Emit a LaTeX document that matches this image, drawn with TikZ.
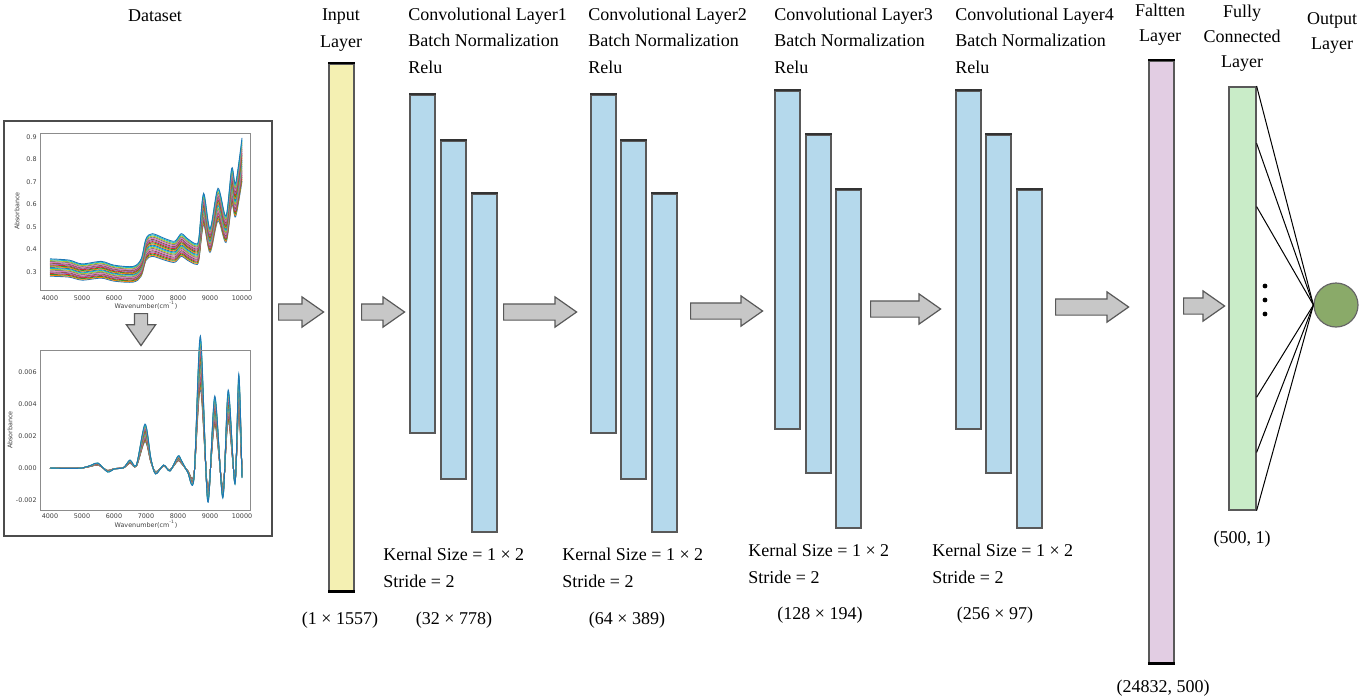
\documentclass[tikz,border=0pt]{standalone}
\usepackage{fontspec}
\setmainfont{Liberation Serif}
\setsansfont{DejaVu Sans}
\usetikzlibrary{positioning,shapes.arrows,calc}

\definecolor{convblue}{HTML}{B5D9EC}
\definecolor{inyellow}{HTML}{F4F0B2}
\definecolor{flatpink}{HTML}{E2CDE3}
\definecolor{fcgreen}{HTML}{C9ECC8}
\definecolor{outgreen}{HTML}{8AAA69}
\definecolor{mpl0}{HTML}{1F77B4}
\definecolor{mpl1}{HTML}{FF7F0E}
\definecolor{mpl2}{HTML}{2CA02C}
\definecolor{mpl3}{HTML}{D62728}
\definecolor{mpl4}{HTML}{9467BD}
\definecolor{mpl5}{HTML}{8C564B}
\definecolor{mpl6}{HTML}{E377C2}
\definecolor{mpl7}{HTML}{7F7F7F}
\definecolor{mpl8}{HTML}{BCBD22}
\definecolor{mpl9}{HTML}{17BECF}

\tikzset{
  lbl/.style={font=\fontsize{9}{13.2}\selectfont, inner sep=0pt},
  layer/.style={draw=black!65, line width=0.8pt, minimum width=12.5pt, inner sep=0pt, anchor=north west},
  conv/.style={layer, fill=convblue, minimum height=169pt},
  flow/.style={single arrow, draw=black!65, fill=black!22, line width=0.6pt, inner xsep=0pt, inner ysep=3.75pt,
    minimum width=14.5pt, single arrow head extend=3.5pt, single arrow tip angle=70, anchor=tail},
  ticklbl/.style={font=\fontsize{3.2}{4}\sffamily, text=black!75, inner sep=0pt},
}

\begin{document}
\begin{tikzpicture}[x=0.5pt, y=-0.5pt]
  \useasboundingbox (0,0) rectangle (1359,698);

  % dataset panel
  \node[draw=black!70, line width=1pt, minimum width=134pt, minimum height=207.5pt, inner sep=0pt, anchor=north west] (dataset) at (3,120) {};
  \node[lbl, anchor=base] (ttlData) at (155,21) {Dataset};

  % raw spectra
  \begin{scope}[shift={(50,339.5)}, x=16pt, y=112.5pt]
    \foreach \k in {-10,...,10} {
      \pgfmathtruncatemacro\ci{mod(\k+10,10)}
      \draw[mpl\ci, line width=0.45pt, yscale=1+0.012*\k] plot[smooth, tension=0.5] coordinates
        {(0,0.32) (0.6,0.315) (1.0,0.30) (1.6,0.31) (2.0,0.295) (2.6,0.29) (2.85,0.32) (3.0,0.40)
         (3.2,0.42) (3.6,0.40) (3.9,0.39) (4.1,0.42) (4.3,0.40) (4.55,0.38) (4.65,0.40) (4.8,0.58)
         (5.0,0.44) (5.25,0.60) (5.5,0.49) (5.68,0.68) (5.8,0.62) (6.0,0.80)};
    }
  \end{scope}
  \draw[black!45, line width=0.4pt] (40,133) rectangle (250,290);
  \foreach \a/\yy in {0.3/272,0.4/249.5,0.5/227,0.6/204.5,0.7/182,0.8/159.5,0.9/137}
    \node[ticklbl, anchor=east] at (37,\yy) {\a};
  \foreach \w [count=\i from 0] in {4000,5000,6000,7000,8000,9000,10000}
    \node[ticklbl] at (50+32*\i,298) {\w};
  \node[ticklbl] at (146,305) {Wavenumber(cm\textsuperscript{-1})};
  \node[ticklbl, rotate=90] at (17,211) {Absorbance};

  % processed spectra
  \node[flow, minimum height=16pt, minimum width=14pt, inner sep=3pt, single arrow head extend=4pt, shape border rotate=270] (down) at (141,313) {};
  \begin{scope}[shift={(50,468)}, x=16pt, y=8pt]
    \foreach \k in {-10,...,10} {
      \pgfmathtruncatemacro\ci{mod(\k+10,10)}
      \draw[mpl\ci, line width=0.45pt, yscale=1+0.025*\k] plot[smooth, tension=0.5] coordinates
        {(0,0) (0.5,-0.02) (1.0,0) (1.3,0.15) (1.5,0.25) (1.8,-0.2) (2.0,-0.05) (2.3,0.02) (2.5,0.4)
         (2.7,0.15) (2.97,2.2) (3.15,0.5) (3.3,-0.3) (3.55,0.15) (3.75,-0.15) (4.0,0.6) (4.1,0.4)
         (4.3,-0.2) (4.5,-0.5) (4.7,6.6) (4.93,-1.7) (5.15,3.6) (5.4,-1.5) (5.57,3.9) (5.78,-0.8)
         (5.9,4.7) (6.0,-0.5)};
    }
  \end{scope}
  \draw[black!45, line width=0.4pt] (40,350) rectangle (250,510);
  \foreach \a/\yy in {0.006/372,0.004/404,0.002/436,0.000/468,-0.002/500}
    \node[ticklbl, anchor=east] at (37,\yy) {\a};
  \foreach \w [count=\i from 0] in {4000,5000,6000,7000,8000,9000,10000}
    \node[ticklbl] at (50+32*\i,516) {\w};
  \node[ticklbl] at (146,524) {Wavenumber(cm\textsuperscript{-1})};
  \node[ticklbl, rotate=90] at (10,430) {Absorbance};

  % input layer
  \node[layer, fill=inyellow, minimum height=263.5pt] (input) at (328,63) {};
  \node[lbl, anchor=base, align=center] (ttlIn) at (341,47) {Input\\Layer};
  \node[lbl, anchor=base] (dimIn) at (340,624) {(1 × 1557)};

  % convolution blocks
  \node[conv] (c1a) at (409,94) {};
  \node[conv] (c1b) at (440,140) {};
  \node[conv] (c1c) at (471,193) {};
  \node[conv] (c2a) at (590,94) {};
  \node[conv] (c2b) at (620,140) {};
  \node[conv] (c2c) at (651,193) {};
  \node[conv] (c3a) at (774,90) {};
  \node[conv] (c3b) at (805,134) {};
  \node[conv] (c3c) at (835,189) {};
  \node[conv] (c4a) at (955,90) {};
  \node[conv] (c4b) at (985,134) {};
  \node[conv] (c4c) at (1016,189) {};
  \foreach \n in {c1a,c1b,c1c,c2a,c2b,c2c,c3a,c3b,c3c,c4a,c4b,c4c}
    \draw[black!80, line width=1.4pt] (\n.north west) -- (\n.north east);

  \node[lbl, anchor=base west, align=left] (ttlC1) at (408,73) {Convolutional Layer1\\Batch Normalization\\Relu};
  \node[lbl, anchor=base west, align=left] (ttlC2) at (588,73) {Convolutional Layer2\\Batch Normalization\\Relu};
  \node[lbl, anchor=base west, align=left] (ttlC3) at (774,73) {Convolutional Layer3\\Batch Normalization\\Relu};
  \node[lbl, anchor=base west, align=left] (ttlC4) at (955,73) {Convolutional Layer4\\Batch Normalization\\Relu};

  \node[lbl, anchor=base west, align=left] (kern1) at (383,587) {Kernal Size = 1 × 2\\Stride = 2};
  \node[lbl, anchor=base west, align=left] (kern2) at (562,587) {Kernal Size = 1 × 2\\Stride = 2};
  \node[lbl, anchor=base west, align=left] (kern3) at (748,583) {Kernal Size = 1 × 2\\Stride = 2};
  \node[lbl, anchor=base west, align=left] (kern4) at (932,583) {Kernal Size = 1 × 2\\Stride = 2};

  \node[lbl, anchor=base] (dimC1) at (454,624) {(32 × 778)};
  \node[lbl, anchor=base] (dimC2) at (627,624) {(64 × 389)};
  \node[lbl, anchor=base] (dimC3) at (820,619) {(128 × 194)};
  \node[lbl, anchor=base] (dimC4) at (995,619) {(256 × 97)};

  % flatten, fully connected, output
  \node[layer, fill=flatpink, minimum height=301pt] (flat) at (1148,60) {};
  \node[layer, fill=fcgreen, minimum width=13.5pt, minimum height=211.5pt] (fc) at (1228,86) {};
  \node[circle, draw=black!60, line width=0.6pt, fill=outgreen, minimum size=22pt, inner sep=0pt] (out) at (1336,305) {};
  \foreach \n in {input,flat} {
    \draw[black, line width=1.4pt] (\n.north west) -- (\n.north east);
    \draw[black, line width=1.4pt] (\n.south west) -- (\n.south east);
  }

  \node[lbl, anchor=base, align=center, font=\fontsize{9}{12.4}\selectfont] (ttlFlat) at (1160,41) {Faltten\\Layer};
  \node[lbl, anchor=base, align=center, font=\fontsize{9}{12.4}\selectfont] (ttlFc) at (1242,67) {Fully\\Connected\\Layer};
  \node[lbl, anchor=base, align=center, font=\fontsize{9}{12.4}\selectfont] (ttlOut) at (1332,49) {Output\\Layer};
  \node[lbl, anchor=base] (dimFlat) at (1163,692) {(24832, 500)};
  \node[lbl, anchor=base] (dimFc) at (1242,543) {(500, 1)};

  \foreach \t in {0,0.135,0.284,0.733,0.863,1}
    \draw[black, line width=0.5pt] ($(fc.north east)!\t!(fc.south east)$) -- (out.west);
  \foreach \yy in {286,300,314}
    \fill (1265,\yy) circle (1.2pt);

  % block arrows
  \node[flow, minimum height=22.5pt] (f1) at (278,312) {};
  \node[flow, minimum height=21.5pt] (f2) at (361,312) {};
  \node[flow, minimum height=36.5pt] (f3) at (503,312) {};
  \node[flow, minimum height=36pt] (f4) at (690,311) {};
  \node[flow, minimum height=35pt] (f5) at (870,309) {};
  \node[flow, minimum height=36.5pt] (f6) at (1055,307) {};
  \node[flow, minimum height=20.5pt] (f7) at (1183,306) {};
\end{tikzpicture}
\end{document}
